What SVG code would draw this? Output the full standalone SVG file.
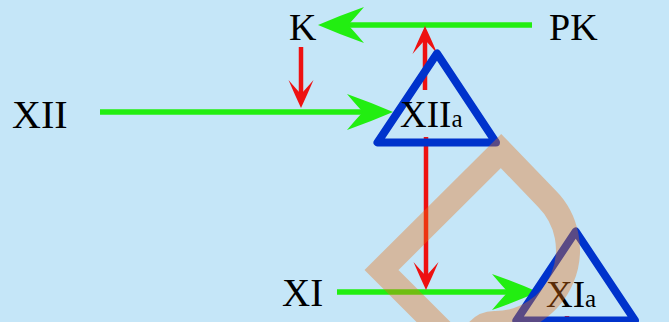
<svg xmlns="http://www.w3.org/2000/svg" width="669" height="322" viewBox="0 0 669 322">
<style>
.lbl{font-family:"Liberation Serif","Times New Roman",serif;fill:#000;}
.g{stroke:#22ee11;stroke-width:5.5;fill:none;}
.r{stroke:#ee1111;stroke-width:4.5;fill:none;}
.tri{fill:none;stroke:#0033cc;stroke-width:8;stroke-linejoin:round;}
</style>
<defs>
<marker id="gh" markerUnits="userSpaceOnUse" orient="auto" refX="0" refY="0" markerWidth="1" markerHeight="1" overflow="visible">
<path d="M30,0 Q8,-9.5 -16,-18 Q-5,-5 0,0 Q-5,5 -16,18 Q8,9.5 30,0 Z" fill="#22ee11"/>
</marker>
<marker id="rh" markerUnits="userSpaceOnUse" orient="auto" refX="0" refY="0" markerWidth="1" markerHeight="1" overflow="visible">
<path d="M14,0 Q0,-6.5 -14,-12.5 Q-3,-3 0,0 Q-3,3 -14,12.5 Q0,6.5 14,0 Z" fill="#ee1111"/>
</marker>
</defs>
<rect width="669" height="322" fill="#c5e6f8"/>
<g id="connectors">
<line class="g" x1="532" y1="25" x2="348" y2="25" marker-end="url(#gh)"/>
<line class="g" x1="100" y1="112" x2="363" y2="112" marker-end="url(#gh)"/>
<line class="g" x1="337" y1="292" x2="508" y2="292" marker-end="url(#gh)"/>
<line class="r" x1="301" y1="47" x2="301" y2="94" marker-end="url(#rh)"/>
<line class="r" x1="425" y1="90" x2="425" y2="40" marker-end="url(#rh)"/>
<line class="r" x1="426" y1="137" x2="426" y2="276" marker-end="url(#rh)"/>
<line class="r" x1="567" y1="316" x2="567" y2="345"/>
</g>
<g id="node-K"><text class="lbl" x="289" y="40" font-size="38">K</text></g>
<g id="node-PK"><text class="lbl" x="549" y="40" font-size="38">PK</text></g>
<g id="node-XII"><text class="lbl" x="12" y="128" font-size="40">XII</text></g>
<g id="node-XIIa">
<polygon class="tri" points="437,53.5 377.5,142.5 496,142.5"/>
<text class="lbl" x="400" y="127" font-size="37">XII<tspan font-size="25">a</tspan></text>
</g>
<g id="node-XI"><text class="lbl" x="282" y="306" font-size="39">XI</text></g>
<g id="node-XIa">
<polygon class="tri" points="575.7,231.5 516.4,320.5 635,320.5"/>
<text class="lbl" x="546" y="307" font-size="37">XI<tspan font-size="25">a</tspan></text>
</g>
<g id="overlay">
<path d="M381.5,270 L501,151 L546.6,198.4 A73,73 0 0 1 494,323 Q475,323 466,354.5 Z" fill="none" stroke="#ec7012" stroke-opacity="0.38" stroke-width="24" stroke-linejoin="miter"/>
</g>
</svg>
